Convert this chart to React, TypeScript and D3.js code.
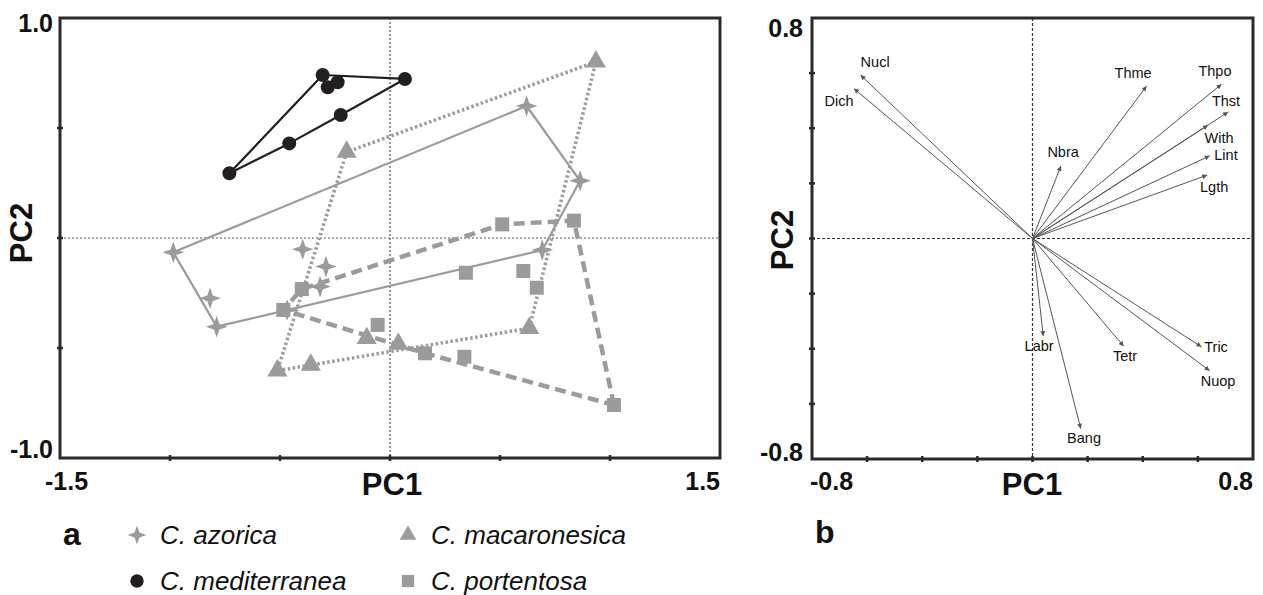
import * as d3 from 'd3';

// PCA scores (PC1, PC2) per species
const azorica: [number, number][] = [
  [-0.985, -0.065], [-0.818, -0.274], [-0.788, -0.403], [-0.397, -0.051],
  [-0.291, -0.13], [-0.318, -0.221], [0.621, 0.6], [0.864, 0.26],
  [0.692, -0.055], [-0.468, -0.327],
];
const macaronesica: [number, number][] = [
  [-0.197, 0.391], [0.936, 0.801], [0.633, -0.41], [0.038, -0.482],
  [-0.106, -0.456], [-0.512, -0.603], [-0.36, -0.577],
];
const mediterranea: [number, number][] = [
  [-0.73, 0.294], [-0.458, 0.43], [-0.224, 0.559], [0.068, 0.723],
  [-0.306, 0.741], [-0.283, 0.685], [-0.238, 0.708],
];
const portentosa: [number, number][] = [
  [-0.401, -0.232], [-0.485, -0.327], [-0.056, -0.395], [0.159, -0.524],
  [0.338, -0.54], [1.018, -0.759], [0.836, 0.079], [0.51, 0.062],
  [0.345, -0.158], [0.606, -0.15], [0.667, -0.226],
];

// variable loadings for panel b
const varNames = ['Nucl', 'Dich', 'Thme', 'Thpo', 'Thst', 'With', 'Lint', 'Lgth', 'Nbra', 'Labr', 'Tetr', 'Tric', 'Nuop', 'Bang'];
const varPC1 = [-0.624, -0.648, 0.414, 0.686, 0.71, 0.637, 0.643, 0.634, 0.103, 0.039, 0.331, 0.613, 0.643, 0.175];
const varPC2 = [0.593, 0.544, 0.553, 0.56, 0.459, 0.411, 0.3, 0.23, 0.263, -0.354, -0.391, -0.393, -0.48, -0.69];
// where each label sits, in PC units
const labelPC1 = [-0.571, -0.702, 0.365, 0.662, 0.702, 0.677, 0.702, 0.659, 0.111, 0.024, 0.336, 0.666, 0.673, 0.187];
const labelPC2 = [0.64, 0.499, 0.6, 0.608, 0.499, 0.365, 0.303, 0.187, 0.314, -0.39, -0.426, -0.394, -0.517, -0.724];

const GRAY = '#9b9b9b';
const DARK = '#231f20';
const FONT = '"Liberation Sans", Arial, sans-serif';

// four-pointed star marker
const star4: d3.SymbolType = {
  draw(ctx, size) {
    const R = Math.sqrt(size) / 2;
    const r = R * 0.36;
    for (let i = 0; i < 8; i++) {
      const a = (i * Math.PI) / 4 - Math.PI / 2;
      const rad = i % 2 ? r : R;
      const x = Math.cos(a) * rad, y = Math.sin(a) * rad;
      if (i === 0) ctx.moveTo(x, y); else ctx.lineTo(x, y);
    }
    ctx.closePath();
  },
};

const groups = [
  { label: 'C. azorica', pts: azorica, sym: star4, size: 470, legSize: 360, color: GRAY, dash: 'none', lw: 2.2 },
  { label: 'C. macaronesica', pts: macaronesica, sym: d3.symbolTriangle, size: 175, legSize: 120, color: GRAY, dash: '2.5,2.5', lw: 3.5 },
  { label: 'C. mediterranea', pts: mediterranea, sym: d3.symbolCircle, size: 154, legSize: 140, color: DARK, dash: 'none', lw: 2.2 },
  { label: 'C. portentosa', pts: portentosa, sym: d3.symbolSquare, size: 196, legSize: 150, color: GRAY, dash: '11,6', lw: 4.5 },
];

const App = () => {
  // panel a scales
  const xa = d3.scaleLinear().domain([-1.5, 1.5]).range([60, 720]);
  const ya = d3.scaleLinear().domain([-1, 1]).range([458, 18]);
  // panel b scales
  const xb = d3.scaleLinear().domain([-0.8, 0.8]).range([812, 1253]);
  const yb = d3.scaleLinear().domain([-0.8, 0.8]).range([459, 18]);

  const hullPath = (pts: [number, number][]) => {
    const h = d3.polygonHull(pts.map(([x, y]) => [xa(x), ya(y)] as [number, number]));
    return h ? 'M' + h.map(p => p.join(',')).join('L') + 'Z' : '';
  };

  const aTicksX = [-1, -0.5, 0, 0.5, 1];
  const aTicksY = [-0.5, 0, 0.5];
  const bTicks = d3.range(-6, 7, 2).map(v => v / 10);

  const legendPos = [
    { x: 137, y: 535 }, { x: 408, y: 535 }, { x: 137, y: 581 }, { x: 408, y: 581 },
  ];

  return (
    <svg width={1263} height={595} style={{ position: 'absolute', left: 0, top: 0, background: '#fff' }} fontFamily={FONT}>
      <defs>
        <marker id="ah" viewBox="0 0 10 10" refX={10} refY={5} markerWidth={6} markerHeight={5}
          markerUnits="userSpaceOnUse" orient="auto">
          <path d="M0,0L10,5L0,10Z" fill="#555" />
        </marker>
      </defs>

      {/* ---------- panel a ---------- */}
      <line x1={xa(0)} x2={xa(0)} y1={ya(1)} y2={ya(-1)} stroke="#555" strokeWidth={1.2} strokeDasharray="2,2" />
      <line x1={xa(-1.5)} x2={xa(1.5)} y1={ya(0)} y2={ya(0)} stroke="#555" strokeWidth={1.2} strokeDasharray="2,2" />

      {groups.map(g => (
        <path key={g.label} d={hullPath(g.pts)} fill="none" stroke={g.color} strokeWidth={g.lw}
          strokeDasharray={g.dash} strokeLinejoin="round" />
      ))}
      {groups.map(g => g.pts.map(([x, y], i) => (
        <path key={g.label + i} transform={`translate(${xa(x)},${ya(y)})`}
          d={d3.symbol(g.sym, g.size)() || ''} fill={g.color} />
      )))}

      <rect x={xa(-1.5)} y={ya(1)} width={xa(1.5) - xa(-1.5)} height={ya(-1) - ya(1)} fill="none" stroke="#2a2a2a" strokeWidth={3} />
      {aTicksX.map(v => (
        <line key={'ax' + v} x1={xa(v)} x2={xa(v)} y1={ya(-1) - 3} y2={ya(-1) + 3} stroke="#2a2a2a" strokeWidth={2.5} />
      ))}
      {aTicksY.map(v => (
        <line key={'ay' + v} x1={xa(-1.5) - 3} x2={xa(-1.5) + 3} y1={ya(v)} y2={ya(v)} stroke="#2a2a2a" strokeWidth={2.5} />
      ))}

      <g fontWeight="bold" fontSize={25} fill="#111">
        <text x={53} y={32} textAnchor="end">1.0</text>
        <text x={53} y={458} textAnchor="end">-1.0</text>
        <text x={45} y={490}>-1.5</text>
        <text x={720} y={490} textAnchor="end">1.5</text>
      </g>
      <text x={392} y={495} textAnchor="middle" fontWeight="bold" fontSize={31} fill="#111">PC1</text>
      <text transform="translate(32,233) rotate(-90)" textAnchor="middle" fontWeight="bold" fontSize={31} fill="#111">PC2</text>

      {/* legend */}
      <text x={63} y={545} fontWeight="bold" fontSize={32} fill="#111">a</text>
      {groups.map((g, i) => (
        <g key={'lg' + g.label} transform={`translate(${legendPos[i].x},${legendPos[i].y})`}>
          <path d={d3.symbol(g.sym, g.legSize)() || ''} fill={g.color} />
          <text x={23} y={9} fontStyle="italic" fontSize={26} fill="#111">{g.label}</text>
        </g>
      ))}

      {/* ---------- panel b ---------- */}
      <line x1={xb(0)} x2={xb(0)} y1={yb(0.8)} y2={yb(-0.8)} stroke="#333" strokeWidth={1.2} strokeDasharray="3,2" />
      <line x1={xb(-0.8)} x2={xb(0.8)} y1={yb(0)} y2={yb(0)} stroke="#333" strokeWidth={1.2} strokeDasharray="3,2" />

      {varNames.map((n, i) => (
        <line key={'ar' + n} x1={xb(0)} y1={yb(0)} x2={xb(varPC1[i])} y2={yb(varPC2[i])}
          stroke="#555" strokeWidth={1} markerEnd="url(#ah)" />
      ))}
      {varNames.map((n, i) => (
        <text key={'lb' + n} x={xb(labelPC1[i])} y={yb(labelPC2[i])} textAnchor="middle" dy="0.35em"
          fontSize={14.5} fill="#111">{n}</text>
      ))}

      <rect x={xb(-0.8)} y={yb(0.8)} width={xb(0.8) - xb(-0.8)} height={yb(-0.8) - yb(0.8)} fill="none" stroke="#2a2a2a" strokeWidth={3} />
      {bTicks.map(v => (
        <line key={'bx' + v} x1={xb(v)} x2={xb(v)} y1={yb(-0.8) - 3} y2={yb(-0.8) + 3} stroke="#2a2a2a" strokeWidth={2.5} />
      ))}
      {bTicks.map(v => (
        <line key={'by' + v} x1={xb(-0.8) - 3} x2={xb(-0.8) + 3} y1={yb(v)} y2={yb(v)} stroke="#2a2a2a" strokeWidth={2.5} />
      ))}

      <g fontWeight="bold" fontSize={25} fill="#111">
        <text x={803} y={37} textAnchor="end">0.8</text>
        <text x={803} y={461} textAnchor="end">-0.8</text>
        <text x={810} y={490}>-0.8</text>
        <text x={1253} y={490} textAnchor="end">0.8</text>
      </g>
      <text x={1032} y={495} textAnchor="middle" fontWeight="bold" fontSize={31} fill="#111">PC1</text>
      <text transform="translate(793,240) rotate(-90)" textAnchor="middle" fontWeight="bold" fontSize={31} fill="#111">PC2</text>
      <text x={815} y={543} fontWeight="bold" fontSize={32} fill="#111">b</text>
    </svg>
  );
};

export default App;
